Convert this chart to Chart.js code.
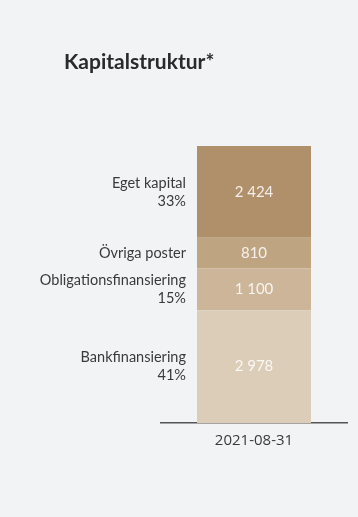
<!DOCTYPE html>
<html lang="sv">
<head>
<meta charset="utf-8">
<title>Kapitalstruktur</title>
<script src="https://cdn.jsdelivr.net/npm/chart.js@4/dist/chart.umd.min.js"></script>
<style>
  html, body { margin: 0; padding: 0; background: #f2f3f5; }
  #wrap { width: 358px; height: 517px; position: relative; }
</style>
</head>
<body>
<div id="wrap"><canvas id="kapital"></canvas></div>
<script>
// Kapitalstruktur per balansdag, Mkr (underifrån och uppåt)
const categories = ['2021-08-31'];
const seriesNames = ['Bankfinansiering', 'Obligationsfinansiering', 'Övriga poster', 'Eget kapital'];
const seriesValues = [2978, 1100, 810, 2424];
const shareLabels = ['41%', '15%', '', '33%'];
const seriesColors = ['#dbcdb8', '#ccb598', '#bfa482', '#b0906a'];

const total = seriesValues.reduce((a, b) => a + b, 0);

// 2978 -> "2 978"
function fmt(v) {
  return String(v).replace(/\B(?=(\d{3})+(?!\d))/g, ' ');
}

// Rubrik, kategorinamn till vänster och värden i staplarna
const labelsPlugin = {
  id: 'segmentLabels',
  afterDatasetsDraw(chart) {
    const ctx = chart.ctx;
    ctx.save();

    ctx.fillStyle = '#2a2a2a';
    ctx.font = 'bold 21px Lato';
    ctx.textAlign = 'left';
    ctx.textBaseline = 'alphabetic';
    ctx.fillText('Kapitalstruktur*', 64, 69);

    chart.data.datasets.forEach((ds, i) => {
      const bar = chart.getDatasetMeta(i).data[0];
      const mid = (bar.y + bar.base) / 2;
      const left = bar.x - bar.width / 2;

      // värdet mitt i segmentet
      ctx.fillStyle = 'rgba(255, 255, 255, 0.85)';
      ctx.font = '15px Lato';
      ctx.textAlign = 'center';
      ctx.textBaseline = 'middle';
      ctx.fillText(fmt(ds.data[0]), bar.x, mid);

      // namn + andel till vänster om stapeln
      ctx.fillStyle = '#3a3a3a';
      ctx.font = '14.5px Lato';
      ctx.textAlign = 'right';
      const lines = [ds.label];
      if (shareLabels[i]) lines.push(shareLabels[i]);
      const lh = 18;
      const y0 = mid - (lines.length - 1) * lh / 2;
      lines.forEach((t, j) => ctx.fillText(t, left - 11, y0 + j * lh));
    });

    ctx.restore();
  }
};

const ctx = document.getElementById('kapital').getContext('2d');
new Chart(ctx, {
  type: 'bar',
  data: {
    labels: categories,
    datasets: seriesNames.map((name, i) => ({
      label: name,
      data: [seriesValues[i]],
      backgroundColor: seriesColors[i],
      borderWidth: 0,
      categoryPercentage: 1,
      barPercentage: 0.613
    }))
  },
  options: {
    responsive: true,
    maintainAspectRatio: false,
    animation: false,
    layout: {
      padding: { left: 161, right: 11, top: 146, bottom: 66 }
    },
    plugins: {
      legend: { display: false },
      tooltip: { enabled: false }
    },
    scales: {
      x: {
        stacked: true,
        grid: { display: false },
        border: { display: true, color: '#555555', width: 1.5 },
        ticks: {
          color: '#3a3a3a',
          padding: 1,
          font: { family: 'Open Sans', size: 15 }
        }
      },
      y: {
        stacked: true,
        display: false,
        min: 0,
        max: total
      }
    }
  },
  plugins: [labelsPlugin]
});
</script>
</body>
</html>
